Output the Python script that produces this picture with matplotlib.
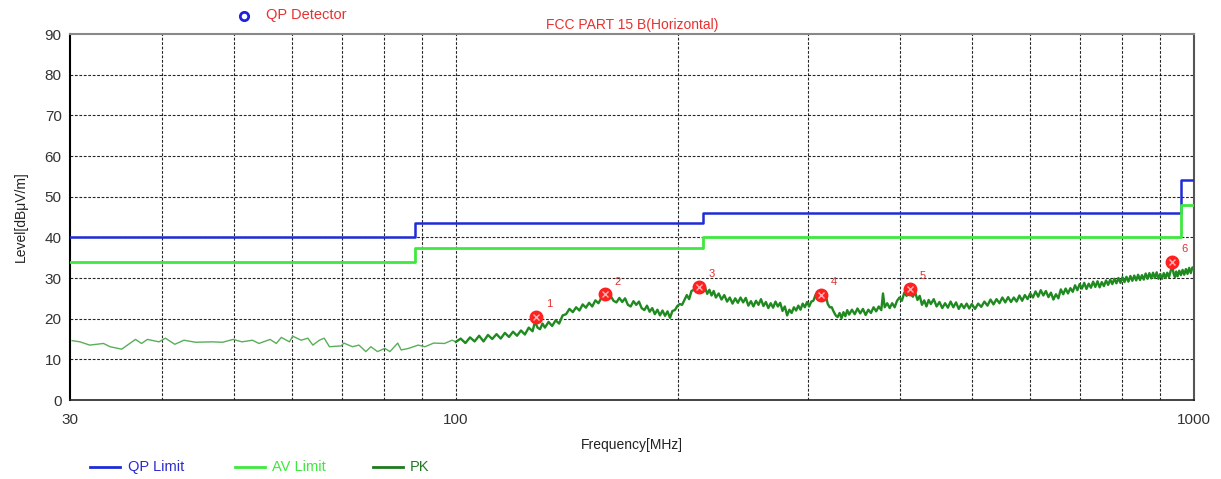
import matplotlib
matplotlib.use("Agg")
import matplotlib.pyplot as plt
from matplotlib.lines import Line2D

plt.rcParams['font.family'] = ['Liberation Sans', 'DejaVu Sans']

# ---------------- data ----------------
limit_edges = [30, 88, 216, 960, 1000]
qp_limit = [40, 43.5, 46, 54]
av_limit = [34, 37.5, 40, 48]

pk_freq = [
    30.2, 30.95, 31.9, 33.3, 34.0, 35.25, 36.8, 37.5, 38.2, 39.6, 40.4, 41.6, 42.8, 44.4,
    46.7, 48.3, 49.9, 51.3, 53.0, 54.1, 56.0, 57.1, 58.0, 59.5, 60.1, 61.7, 63.0, 64.0,
    65.3, 66.3, 67.4, 69.9, 70.5, 72.4, 73.9, 75.5, 76.7, 78.3, 80.1, 81.4, 83.4, 84.3,
    86.3, 88.9, 90.8, 93.3, 96.5, 98.8,
    100, 101.5, 103, 104.5, 106, 107.5, 109, 110.5, 112, 113.5, 115, 116.5, 118, 119.5,
    121, 122.5, 124, 125.5, 127, 128, 129, 130, 131, 132, 133.5, 135, 136.5, 138, 139.5,
    141, 142.5, 144, 145.5, 147, 148.5, 150, 151.5, 153, 154.5, 156, 157.5, 159, 160.5,
    162, 163.5, 165, 166.5, 168, 169.5, 171, 172.5, 174, 175.5, 177, 178.5, 180, 181.5,
    183, 184.5, 186, 187.5, 189, 190.5, 192, 193.5, 195, 196.5, 198, 199.5, 201, 202.5,
    204, 205.5, 207, 208.5, 210, 211.5, 213, 214.5, 216, 217.5, 219, 220.5, 222, 223.5,
    225, 227, 229, 231, 233, 235, 237, 239, 241, 243, 245, 247, 249, 251, 253, 255, 257,
    259, 261, 263, 265, 267, 269, 271, 273, 275, 277, 279, 281, 283, 285, 287, 289, 291,
    293, 295, 297, 299, 301, 303, 305, 307, 309, 311, 313, 315, 317, 319, 321, 323, 325,
    327, 329, 331, 333, 335, 337, 339, 341, 344, 347, 350, 353, 356, 359, 362, 365, 368,
    371, 374, 377, 379, 381, 384, 387, 390, 393, 396, 399, 402, 405, 408, 410, 413, 416,
    419, 422, 425, 428, 431, 434, 437, 440, 444, 448, 452, 456, 460, 464, 468, 472, 476,
    480, 484, 488, 492, 496, 500, 505, 510, 515, 520, 525, 530, 535, 540, 545, 550, 555,
    560, 565, 570, 575, 580, 585, 590, 595, 600, 605, 610, 615, 620, 625, 630, 635, 640,
    645, 650, 655, 660, 665, 670, 675, 680, 685, 690, 695, 700, 705, 710, 715, 720, 725,
    730, 735, 740, 745, 750, 755, 760, 765, 770, 775, 780, 785, 790, 795, 800, 805, 810,
    815, 820, 825, 830, 835, 840, 845, 850, 855, 860, 865, 870, 875, 880, 885, 890, 895,
    900, 905, 910, 915, 920, 925, 930, 934, 938, 942, 946, 950, 955, 960, 965, 970, 975,
    980, 985, 990, 995, 1000,
]
pk_level = [
    14.6, 14.3, 13.5, 13.9, 13.1, 12.5, 14.9, 13.9, 14.9, 14.3, 15.2, 13.7, 14.7, 14.2,
    14.3, 14.2, 14.9, 14.3, 14.7, 13.9, 14.9, 13.9, 15.4, 14.3, 15.7, 14.7, 15.2, 13.5,
    14.7, 15.2, 13.1, 13.3, 14.0, 13.1, 13.5, 11.9, 13.1, 11.9, 12.7, 11.9, 14.0, 12.3,
    12.7, 13.5, 13.1, 14.0, 13.9, 14.7,
    14.3, 15.1, 14.0, 15.4, 14.4, 15.8, 14.4, 16.0, 15.0, 16.2, 15.1, 16.5, 15.5, 16.8,
    15.8, 17.1, 16.1, 17.8, 16.9, 19.3, 17.8, 17.4, 18.8, 17.8, 19.2, 18.2, 19.6, 18.8, 20.8,
    21.1, 22.4, 21.6, 22.8, 22.0, 23.5, 22.7, 23.9, 23.0, 24.5, 23.8, 25.2, 25.7, 24.7,
    25.6, 24.4, 24.0, 25.1, 24.1, 25.0, 23.4, 23.0, 24.3, 23.4, 24.2, 22.6, 22.1, 23.2,
    21.7, 22.6, 21.1, 22.2, 20.8, 22.0, 20.7, 21.8, 20.2, 21.9, 22.1, 23.1, 23.6, 23.4,
    24.6, 25.8, 24.8, 26.8, 27.1, 27.0, 28.2, 27.4, 26.6, 27.7, 26.1, 27.1, 25.7, 26.8,
    25.2, 26.2, 24.7, 25.8, 24.2, 25.2, 23.7, 25.0, 23.9, 25.2, 24.0, 25.1, 23.2, 24.3, 23.0, 24.4, 23.4,
    24.8, 23.1, 24.1, 22.6, 23.8, 22.7, 24.2, 23.0, 23.9, 21.9, 23.0, 20.8, 22.2, 21.4, 22.8, 22.0, 23.2,
    22.2, 23.7, 22.8, 24.1, 23.0, 24.2, 24.4, 25.8, 24.8, 26.2, 25.1, 24.6, 25.7, 23.6, 22.8, 22.8, 21.7,
    20.8, 20.4, 21.4, 20.1, 21.6, 20.6, 22.1, 21.0, 22.2, 21.1, 22.5, 21.3, 22.4, 20.9, 22.2, 21.4, 22.8,
    21.8, 23.0, 22.1, 26.2, 22.8, 23.8, 22.6, 23.8, 22.8, 24.4, 25.2, 24.4, 26.4, 25.6, 27.4, 26.2, 25.4,
    26.5, 24.6, 25.6, 23.4, 24.5, 23.0, 24.6, 23.6, 24.8, 23.0, 24.1, 22.6, 23.8, 22.7, 24.2, 22.8, 24.0,
    22.4, 23.6, 22.6, 23.7, 22.5, 23.6, 22.4, 23.7, 22.9, 24.2, 23.2, 24.7, 23.5, 24.8, 23.8, 25.2, 24.0,
    25.3, 24.1, 25.2, 24.2, 25.7, 24.4, 25.8, 24.8, 26.2, 25.2, 26.7, 25.4, 27.0, 25.7, 26.8, 25.3, 26.4,
    24.7, 26.0, 25.0, 27.2, 26.0, 27.4, 26.2, 27.5, 26.6, 28.2, 27.0, 28.5, 27.4, 28.8, 27.3, 28.6, 27.6,
    29.1, 27.8, 29.2, 27.7, 29.0, 28.0, 29.4, 28.3, 29.6, 28.5, 29.8, 28.7, 30.0, 28.8, 30.2, 29.0, 30.3,
    29.1, 30.5, 29.3, 30.6, 29.4, 30.8, 29.5, 30.7, 29.6, 31.1, 29.8, 31.2, 29.9, 31.3, 30.0, 31.4, 29.8,
    31.0, 29.8, 31.2, 30.0, 31.3, 30.2, 31.8, 33.2, 31.2, 30.2, 31.6, 30.4, 31.8, 30.7, 32.0, 30.8, 32.2,
    31.0, 32.5, 31.2, 32.6, 32.2,
]

marker_freq = [128.4, 159.3, 213.5, 312.0, 411.7, 934.0]
marker_level = [20.4, 26.0, 27.8, 25.9, 27.4, 33.9]
marker_labels = ["1", "2", "3", "4", "5", "6"]

y_ticks = [0, 10, 20, 30, 40, 50, 60, 70, 80, 90]
x_major = [30, 100, 1000]
x_major_labels = ["30", "100", "1000"]
x_minor = [40, 50, 60, 70, 80, 90, 200, 300, 400, 500, 600, 700, 800, 900]

# ---------------- figure ----------------
W, H = 1221, 479
fig = plt.figure(figsize=(W / 100, H / 100), dpi=100)
ax = fig.add_axes([70 / W, 1 - 400 / H, (1194 - 70) / W, (400 - 34) / H])

ax.set_xscale('log')
ax.set_xlim(30, 1000)
ax.set_ylim(0, 90)

# grid
grid_kw = dict(color='black', lw=0.8, ls=(0, (2.5, 1.5)), alpha=0.85, zorder=1)
for yv in y_ticks[1:-1]:
    ax.axhline(yv, **grid_kw)
for xv in x_minor + [100]:
    ax.axvline(xv, **grid_kw)

# limits
ax.step(limit_edges, qp_limit + [qp_limit[-1]], where='post', color='#1f2bd6', lw=1.8, zorder=3)
ax.step(limit_edges, av_limit + [av_limit[-1]], where='post', color='#3ee83e', lw=2.0, zorder=3)

# PK trace
split = pk_freq.index(100)
ax.plot(pk_freq[:split + 1], pk_level[:split + 1], color='#5aae5a', lw=1.0, zorder=4)
ax.plot(pk_freq[split:], pk_level[split:], color='#1f8a1f', lw=1.7, zorder=4)

# markers
ax.plot(marker_freq, marker_level, ls='none', marker='o', ms=9, color='#ff2020',
        mec='#ff2020', zorder=5)
ax.plot(marker_freq, marker_level, ls='none', marker='x', ms=5, mew=1.0, color='#ffb0b0',
        zorder=6)
for f, l, t in zip(marker_freq, marker_level, marker_labels):
    ax.annotate(t, (f, l), xytext=(7, 7), textcoords='offset points', color='#e03030',
                fontsize=8, zorder=6)

# ticks
ax.set_yticks(y_ticks)
ax.set_xticks(x_major)
ax.set_xticklabels(x_major_labels)
ax.xaxis.set_minor_locator(matplotlib.ticker.NullLocator())
ax.tick_params(length=0, labelsize=11, colors='#333333', pad=6)
ax.tick_params(axis='x', pad=9)

# spines
ax.spines['left'].set_color('black')
ax.spines['left'].set_linewidth(1.5)
ax.spines['bottom'].set_color('#222222')
ax.spines['bottom'].set_linewidth(1.2)
ax.spines['top'].set_color('#888888')
ax.spines['top'].set_linewidth(1.5)
ax.spines['right'].set_color('#555555')
ax.spines['right'].set_linewidth(1.5)

ax.set_xlabel('Frequency[MHz]', fontsize=10, color='#222222', labelpad=8)
ax.set_ylabel('Level[dB\u03bcV/m]', fontsize=10, color='#222222', labelpad=12)

# header texts
fig.text(632 / W, 1 - 25 / H, 'FCC PART 15 B(Horizontal)', color='#e83030', fontsize=10,
         ha='center', va='center')
fig.text(266 / W, 1 - 15 / H, 'QP Detector', color='#e83030', fontsize=10.5,
         ha='left', va='center')
fig.add_artist(Line2D([244 / W], [1 - 16 / H], marker='o', ms=6, mfc='none', mec='#2020e0',
                      mew=2, ls='none'))

# legend at bottom
leg_y = 1 - 467 / H
legend_items = [
    (90, 120, 128, 'QP Limit', '#1f2bd6', '#2a2ad0'),
    (235, 265, 272, 'AV Limit', '#3ee83e', '#3ee83e'),
    (373, 403, 410, 'PK', '#1f7a1f', '#1f7a1f'),
]
for x0, x1, xt, label, lc, tc in legend_items:
    fig.add_artist(Line2D([x0 / W, x1 / W], [leg_y, leg_y], color=lc, lw=2))
    fig.text(xt / W, leg_y, label, color=tc, fontsize=10.5, ha='left', va='center')

fig.savefig('out.png', dpi=100)
